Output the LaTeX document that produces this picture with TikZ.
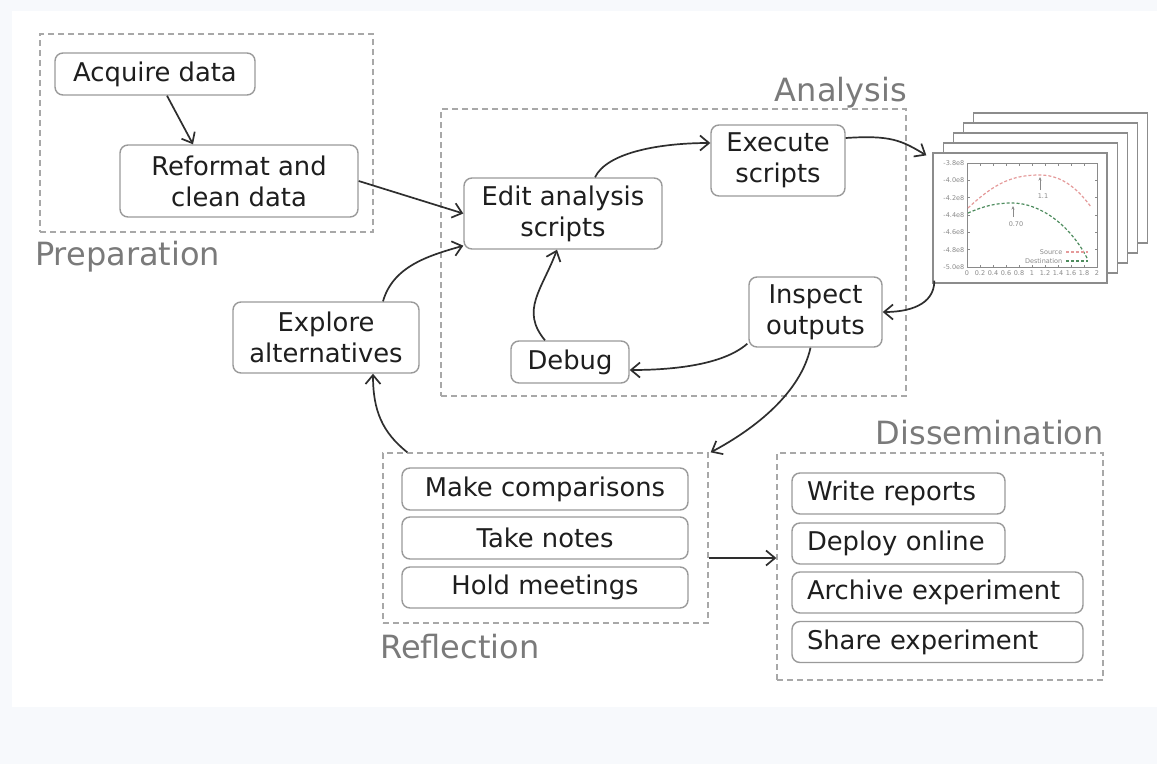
\documentclass[tikz,border=0pt]{standalone}
\usepackage{fontspec}
\setmainfont{DejaVu Sans}
\usetikzlibrary{arrows.meta}

\definecolor{pagebg}{HTML}{F7F9FC}
\definecolor{boxline}{HTML}{9A9A9A}
\definecolor{groupline}{HTML}{A8A8A8}
\definecolor{grouptext}{HTML}{7A7A7A}
\definecolor{ink}{HTML}{1E1E1E}
\definecolor{arrowink}{HTML}{2E2E2E}
\definecolor{sheetline}{HTML}{8C8C8C}
\definecolor{plotgray}{HTML}{8A8A8A}
\definecolor{srcred}{HTML}{E59A9A}
\definecolor{dstgreen}{HTML}{4E8C5E}

\begin{document}
\begin{tikzpicture}[x=1pt, y=-1pt,
  task/.style={draw=boxline, line width=1.4pt, rounded corners=8pt, fill=white,
    text=ink, font=\fontsize{25.8}{31}\selectfont, inner sep=0pt, align=center},
  sz/.style 2 args={minimum width=#1pt, minimum height=#2pt},
  item/.style={task, minimum height=41pt, inner xsep=15pt, text width=#1, align=left},
  group/.style={draw=groupline, line width=1.3pt, dash pattern=on 6pt off 4pt, inner sep=0pt},
  grouplabel/.style={text=grouptext, font=\fontsize{32}{38}\selectfont, inner sep=0pt},
  arr/.style={draw=arrowink, line width=1.7pt, -{Straight Barb[length=9pt,width=15pt,line width=1.7pt]}},
  sheetbox/.style={draw=sheetline, line width=1.3pt, fill=white},
  axisline/.style={draw=plotgray, line width=0.6pt},
  ticklabel/.style={text=plotgray, font=\fontsize{6.5}{7}\selectfont, inner sep=0.5pt},
  srcline/.style={draw=srcred, line width=1.2pt, dash pattern=on 3pt off 2pt},
  dstline/.style={draw=dstgreen, line width=1.2pt, dash pattern=on 3pt off 2pt}]

\useasboundingbox (0,0) rectangle (1157,764);
\fill[pagebg] (0,0) rectangle (1157,764);
\fill[white] (12,11) rectangle (1157,707);

% stage frames
\node[group, minimum width=333pt, minimum height=198pt] (prepbox) at (206.5,133) {};
\node[group, minimum width=465pt, minimum height=287pt] (analbox) at (673.5,252.5) {};
\node[group, minimum width=325pt, minimum height=170pt] (reflbox) at (545.5,538) {};
\node[group, minimum width=326pt, minimum height=227pt] (dissbox) at (940,566.5) {};

\node[grouplabel, anchor=base west] (preplabel) at (35,265) {Preparation};
\node[grouplabel, anchor=base east] (anallabel) at (907,101) {Analysis};
\node[grouplabel, anchor=base west] (refllabel) at (380,658) {Reflection};
\node[grouplabel, anchor=base east] (disslabel) at (1104,444) {Dissemination};

% tasks
\node[task, sz={200}{42}] (acq) at (155,74) {Acquire data};
\node[task, sz={238}{72}] (ref) at (239,181) {Reformat and\\clean data};
\node[task, sz={198}{71}] (edit) at (563,213.5) {Edit analysis\\scripts};
\node[task, sz={134}{71}] (exec) at (778,160.5) {Execute\\scripts};
\node[task, sz={133}{70}] (insp) at (815.5,312) {Inspect\\outputs};
\node[task, sz={118}{42}] (debug) at (570,362) {Debug};
\node[task, sz={186}{71}] (expl) at (326,337.5) {Explore\\alternatives};

\node[task, sz={286}{42}] (make) at (545,489) {Make comparisons};
\node[task, sz={286}{42}] (notes) at (545,538) {Take notes};
\node[task, sz={286}{41}] (meet) at (545,587.5) {Hold meetings};

\node[item=183pt] (write) at (898.5,493.5) {Write reports};
\node[item=183pt] (deploy) at (898.5,543.5) {Deploy online};
\node[item=261pt] (archive) at (937.5,592.5) {Archive experiment};
\node[item=261pt] (share) at (937.5,642) {Share experiment};

% stack of output plots
\foreach \k in {4,3,2,1}
  \draw[sheetbox] (933+10.2*\k,153-10*\k) rectangle ++(174,130);
\node[sheetbox, inner sep=0pt, minimum width=174pt, minimum height=130pt] (sheet) at (1020,218) {};

\draw[axisline] (967,163) rectangle (1097,267);
\foreach \yy/\lab [count=\i] in {163/-3.8e8, 180.3/-4.0e8, 197.7/-4.2e8, 215/-4.4e8,
    232.3/-4.6e8, 249.7/-4.8e8, 267/-5.0e8} {
  \draw[axisline] (967,\yy) -- ++(2.5,0);
  \draw[axisline] (1097,\yy) -- ++(-2.5,0);
  \node[ticklabel, anchor=east] (ylab\i) at (965,\yy) {\lab};
}
\foreach \xx/\lab [count=\i] in {967/0, 980/0.2, 993/0.4, 1006/0.6, 1019/0.8, 1032/1,
    1045/1.2, 1058/1.4, 1071/1.6, 1084/1.8, 1097/2} {
  \draw[axisline] (\xx,267) -- ++(0,-2.5);
  \draw[axisline] (\xx,163) -- ++(0,2.5);
  \node[ticklabel, anchor=north] (xlab\i) at (\xx,270) {\lab};
}

\draw[srcline] (968,208) .. controls (995,183) and (1012,175) .. (1040,175)
  .. controls (1064,175) and (1080,192) .. (1091,207);
\draw[dstline] (968,213) .. controls (984,206) and (996,203) .. (1012,203)
  .. controls (1040,203) and (1070,225) .. (1087,258);

\draw[axisline, line width=0.9pt, -{Stealth[length=3.5pt,width=3pt]}] (1040,190) -- (1040,177);
\node[ticklabel] (peaksrc) at (1043,196) {1.1};
\draw[axisline, line width=0.9pt, -{Stealth[length=3.5pt,width=3pt]}] (1013,217) -- (1013,206);
\node[ticklabel] (peakdst) at (1016,224) {0.70};

\node[ticklabel, anchor=east] (legsrc) at (1063,252) {Source};
\draw[srcline] (1066,252) -- (1088,252);
\node[ticklabel, anchor=east] (legdst) at (1063,261) {Destination};
\draw[dstline] (1066,261) -- (1088,261);

% connectors
\draw[arr] ([xshift=12pt]acq.south) -- ([xshift=-46pt]ref.north);
\draw[arr] (ref.east) -- (edit.west);
\draw[arr] ([xshift=57pt]expl.north) .. controls +(10,-35) and +(-35,10) .. ([yshift=4pt]edit.south west);
\draw[arr] ([xshift=25pt]reflbox.north west) .. controls +(-25,-20) and +(0,37) .. ([xshift=47pt]expl.south);
\draw[arr] ([xshift=32pt]edit.north) .. controls +(12,-25) and +(-50,0) .. ([yshift=17.5pt]exec.west);
\draw[arr] ([yshift=22.5pt]exec.east) .. controls +(45,-3) and +(-25,-15) .. ([xshift=-6pt,yshift=-3pt]sheet.north west);
\draw[arr] ([xshift=2pt,yshift=3pt]sheet.south west) .. controls +(0,25) and +(25,0) .. (insp.east);
\draw[arr] ([xshift=-1pt,yshift=4pt]insp.south west) .. controls +(-25,22) and +(40,0) .. ([yshift=-8pt]debug.east);
\draw[arr] ([xshift=-25pt]debug.north) .. controls +(-25,-30) and +(-15,40) .. ([xshift=-6pt]edit.south);
\draw[arr] ([xshift=-5pt]insp.south) .. controls +(-10,45) and +(45,-24) .. ([xshift=2pt]reflbox.north east);
\draw[arr] ([yshift=-20pt]reflbox.east) -- ([yshift=-20pt]reflbox.east -| dissbox.west);

\end{tikzpicture}
\end{document}
